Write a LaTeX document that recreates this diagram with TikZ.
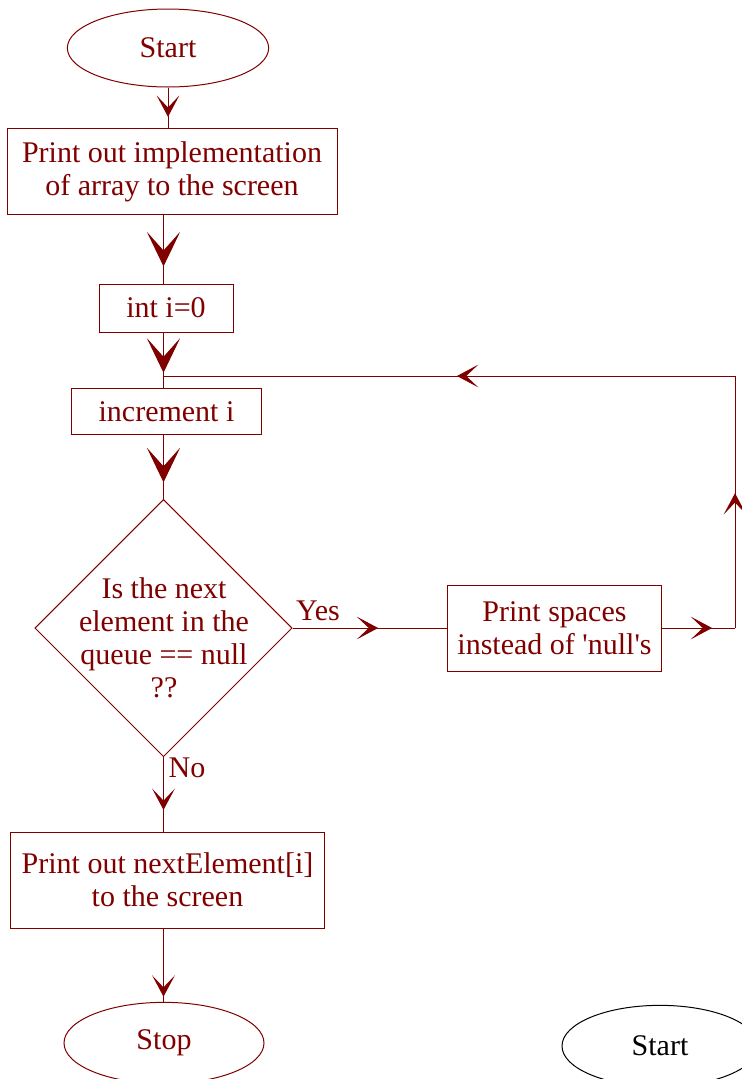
\documentclass[tikz,border=0pt]{standalone}
\usepackage{fontspec}
\setmainfont{Liberation Serif}
\usetikzlibrary{shapes.geometric,arrows.meta,decorations.markings}
\definecolor{maroon}{RGB}{128,0,0}
\tikzset{
    box/.style={draw=maroon, text=maroon, rectangle, inner sep=0pt, align=center},
    term/.style={draw=maroon, text=maroon, ellipse, inner sep=0pt},
    txt/.style={text=maroon, inner sep=0pt, align=center},
    link/.style={color=maroon},
    arrS/.style={postaction={decorate}, decoration={markings,
        mark=at position #1 with {\arrow{Stealth[length=16pt,width=17pt,inset=9pt]}}}},
    arrL/.style={postaction={decorate}, decoration={markings,
        mark=at position #1 with {\arrow{Stealth[length=26pt,width=25pt,inset=14pt]}}}}
}
\begin{document}
\begin{tikzpicture}[x=0.75pt, y=-0.75pt, line width=0.75pt, font=\fontsize{22.5}{24.75}\selectfont]
        \useasboundingbox (0,0) rectangle (742,1079);
        \clip (0,0) rectangle (742,1079);

        \node[term, minimum width=151pt, minimum height=58.5pt] (start) at (168,48) {Start};
        \node[box, minimum width=247.5pt, minimum height=65pt] (impl) at (172,171.5) {Print out implementation\\of array to the screen};
        \node[box, minimum width=100.5pt, minimum height=36pt] (init) at (166,308) {int i=0};
        \node[box, minimum width=142pt, minimum height=35pt] (incr) at (166.5,411.5) {increment i};
        \node[draw=maroon, diamond, aspect=1, inner sep=0pt, minimum width=193pt, minimum height=193pt] (q) at (163.5,628) {};
        \node[txt] (qtext) at (164,638) {Is the next\\element in the\\queue == null\\??};
        \node[box, minimum width=161pt, minimum height=64.5pt] (spaces) at (554.5,628) {Print spaces\\instead of \textquotesingle null\textquotesingle s};
        \node[box, minimum width=236pt, minimum height=72pt] (show) at (167.5,880) {Print out nextElement[i]\\to the screen};
        \node[term, minimum width=150pt, minimum height=61pt] (stop) at (164,1043) {Stop};
        \node[draw, ellipse, inner sep=0pt, minimum width=147pt, minimum height=61pt] (start2) at (660,1046) {Start};

        \node[txt] (yes) at (318,611) {Yes};
        \node[txt] (no) at (187,768) {No};

        \coordinate (rc) at (735,628);
        \coordinate (rt) at (735,376);
        \coordinate (jn) at (164,376);

        \draw[link, arrS=0.73] (start.south) -- (start.south |- impl.north);
        \draw[link, arrL=0.75] (q.north |- impl.south) -- (q.north |- init.north);
        \draw[link, arrL=0.73] (q.north |- init.south) -- (q.north |- incr.north);
        \draw[link, arrL=0.74] (q.north |- incr.south) -- (q.north);
        \draw[link, arrS=0.555] (q.east) -- (spaces.west);
        \draw[link, arrS=0.685] (spaces.east) -- (rc);
        \draw[link, arrS=0.535] (rc) -- (rt);
        \draw[link, arrS=0.487] (rt) -- (jn);
        \draw[link, arrS=0.71] (q.south) -- (q.south |- show.north);
        \draw[link, arrS=0.93] (q.south |- show.south) -- (q.south |- stop.north);
    \end{tikzpicture}
\end{document}
